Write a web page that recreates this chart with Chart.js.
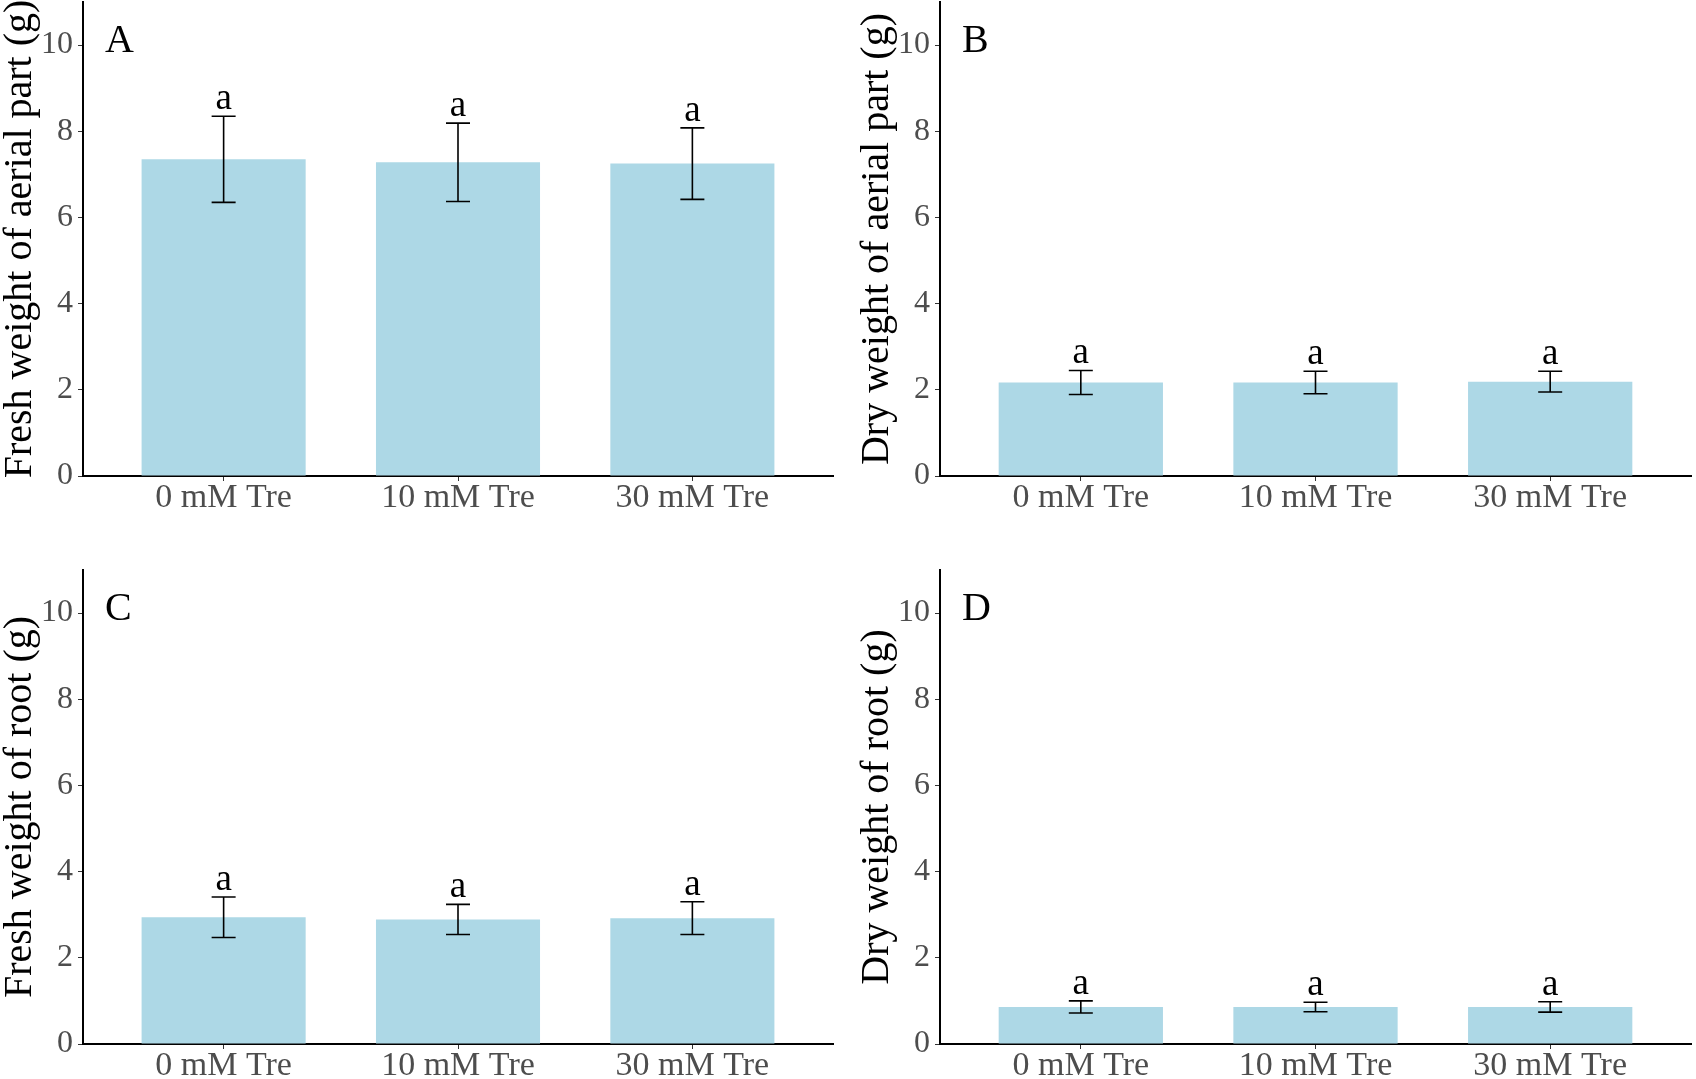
<!DOCTYPE html>
<html>
<head>
<meta charset="utf-8">
<script src="https://cdn.jsdelivr.net/npm/chart.js@4.4.0/dist/chart.umd.min.js"></script>
<style>
  html, body { margin: 0; padding: 0; background: #fff; }
  body { width: 1696px; height: 1079px; position: relative; overflow: hidden; }
  .panel { position: absolute; }
</style>
</head>
<body>
<div class="panel" style="left:0;top:0;width:857px;height:540px"><canvas id="chartA"></canvas></div>
<div class="panel" style="left:857px;top:0;width:839px;height:540px"><canvas id="chartB"></canvas></div>
<div class="panel" style="left:0;top:540px;width:857px;height:539px"><canvas id="chartC"></canvas></div>
<div class="panel" style="left:857px;top:540px;width:839px;height:539px"><canvas id="chartD"></canvas></div>
<script>
// Data (mean and error bar half-length)
const categories = ["0 mM Tre", "10 mM Tre", "30 mM Tre"];
const yTicks = [0, 2, 4, 6, 8, 10];
const sigLetters = ["a", "a", "a"];

const freshAerialMean = [7.35, 7.28, 7.25];
const freshAerialErr = [1.0, 0.91, 0.83];
const dryAerialMean = [2.17, 2.17, 2.19];
const dryAerialErr = [0.28, 0.26, 0.24];
const freshRootMean = [2.94, 2.89, 2.92];
const freshRootErr = [0.47, 0.35, 0.38];
const dryRootMean = [0.86, 0.86, 0.86];
const dryRootErr = [0.14, 0.11, 0.12];

const SERIF = "'Liberation Serif', 'Times New Roman', serif";
const BAR_COLOR = "#ADD8E6";

// error bars, significance letters and panel tag
const errorBarPlugin = {
  id: "errorBars",
  afterDatasetsDraw(chart, args, opts) {
    const ctx = chart.ctx;
    const xs = chart.scales.x;
    const ys = chart.scales.y;
    const mean = opts.mean;
    const err = opts.err;
    ctx.save();
    ctx.strokeStyle = "#000";
    ctx.lineWidth = 1.6;
    for (let i = 0; i < mean.length; i++) {
      const x = xs.getPixelForValue(i);
      const yt = ys.getPixelForValue(mean[i] + err[i]);
      const yb = ys.getPixelForValue(mean[i] - err[i]);
      ctx.beginPath();
      ctx.moveTo(x, yt);
      ctx.lineTo(x, yb);
      ctx.moveTo(x - 12, yt);
      ctx.lineTo(x + 12, yt);
      ctx.moveTo(x - 12, yb);
      ctx.lineTo(x + 12, yb);
      ctx.stroke();

      ctx.fillStyle = "#000";
      ctx.font = "37px " + SERIF;
      ctx.textAlign = "center";
      ctx.textBaseline = "alphabetic";
      ctx.fillText(sigLetters[i], x, yt - 7);
    }
    const area = chart.chartArea;
    ctx.font = "40px " + SERIF;
    ctx.textAlign = "left";
    ctx.fillText(opts.tag, area.left + 22, area.top + 50);
    ctx.restore();
  },
};

function makeChart(id, tag, mean, err, yTitle, padTop, padRight, xHeight) {
  const ctx = document.getElementById(id).getContext("2d");
  return new Chart(ctx, {
    type: "bar",
    data: {
      datasets: [
        {
          data: mean.map((v, i) => ({ x: i, y: v })),
          backgroundColor: BAR_COLOR,
          borderWidth: 0,
          barPercentage: 0.7,
          categoryPercentage: 1.0,
        },
      ],
    },
    options: {
      responsive: true,
      maintainAspectRatio: false,
      animation: false,
      layout: { padding: { top: padTop, right: padRight, left: 0, bottom: 0 } },
      plugins: {
        legend: { display: false },
        tooltip: { enabled: false },
        errorBars: { mean: mean, err: err, tag: tag },
      },
      scales: {
        x: {
          type: "linear",
          min: -0.6,
          max: 2.6,
          offset: false,
          afterBuildTicks: (scale) => {
            scale.ticks = categories.map((c, i) => ({ value: i }));
          },
          afterFit: (scale) => {
            scale.height = xHeight;
            scale.paddingLeft = 0;
            scale.paddingRight = 0;
          },
          ticks: {
            callback: (value) => categories[value],
            color: "#4D4D4D",
            font: { family: SERIF, size: 34, lineHeight: 1 },
            padding: 0,
            maxRotation: 0,
            autoSkip: false,
          },
          grid: {
            display: true,
            offset: false,
            drawOnChartArea: false,
            drawTicks: true,
            tickLength: 5,
            color: "#333",
          },
          border: { display: true, color: "#000", width: 2 },
        },
        y: {
          min: 0,
          max: 11,
          afterBuildTicks: (scale) => {
            scale.ticks = yTicks.map((v) => ({ value: v }));
          },
          afterFit: (scale) => {
            scale.width = 83;
            scale.paddingTop = 0;
            scale.paddingBottom = 0;
          },
          ticks: {
            color: "#4D4D4D",
            font: { family: SERIF, size: 32, lineHeight: 1 },
            padding: 5,
          },
          grid: {
            display: true,
            drawOnChartArea: false,
            drawTicks: true,
            tickLength: 5,
            color: "#333",
          },
          border: { display: true, color: "#000", width: 2 },
          title: {
            display: true,
            text: yTitle,
            color: "#000",
            font: { family: SERIF, size: 40, lineHeight: 1 },
            padding: 0,
          },
        },
      },
    },
    plugins: [errorBarPlugin],
  });
}

makeChart("chartA", "A", freshAerialMean, freshAerialErr, "Fresh weight of aerial part (g)", 2, 24, 64);
makeChart("chartB", "B", dryAerialMean, dryAerialErr, "Dry weight of aerial part (g)", 2, 5, 64);
makeChart("chartC", "C", freshRootMean, freshRootErr, "Fresh weight of root (g)", 30, 24, 35);
makeChart("chartD", "D", dryRootMean, dryRootErr, "Dry weight of root (g)", 30, 5, 35);
</script>
</body>
</html>
